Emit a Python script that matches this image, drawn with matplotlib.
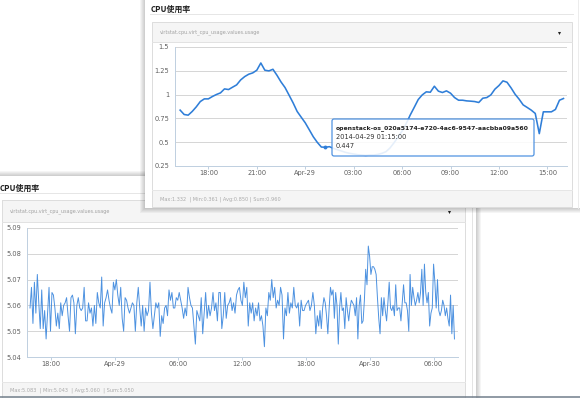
import matplotlib
matplotlib.use('Agg')
import matplotlib.pyplot as plt
import matplotlib.dates as mdates
from matplotlib.patches import Rectangle, FancyBboxPatch
from matplotlib.ticker import FuncFormatter, FixedLocator
import pandas as pd

W, H = 580, 398

panel_title = 'CPU使用率'
metric_name = 'virtstat.cpu.virt_cpu_usage.values.usage'

# front window (one day, 15 min samples)
top_start = '2014-04-28 16:15'
top_step = '15min'
top_usage = [0.837, 0.791, 0.784, 0.823, 0.871, 0.927, 0.955, 0.955, 0.980, 1.001,
             1.018, 1.060, 1.053, 1.078, 1.102, 1.154, 1.189, 1.214, 1.228, 1.256,
             1.332, 1.256, 1.249, 1.266, 1.203, 1.133, 1.074, 0.994, 0.913, 0.823,
             0.763, 0.704, 0.631, 0.557, 0.498, 0.449, 0.447, 0.453, 0.435, 0.421,
             0.407, 0.393, 0.383, 0.376, 0.369, 0.365, 0.361, 0.365, 0.365, 0.372,
             0.383, 0.400, 0.439, 0.494, 0.554, 0.617, 0.693, 0.784, 0.865, 0.948,
             0.997, 1.029, 1.025, 1.088, 1.036, 1.022, 1.039, 1.015, 0.969, 0.941,
             0.941, 0.934, 0.931, 0.927, 0.917, 0.962, 0.969, 0.997, 1.057, 1.095,
             1.144, 1.130, 1.071, 1.004, 0.952, 0.892, 0.865, 0.837, 0.802, 0.590,
             0.819, 0.819, 0.819, 0.844, 0.941, 0.959]
top_yticks = [0.25, 0.5, 0.75, 1.0, 1.25, 1.5]
top_xlim = ('2014-04-28 15:56', '2014-04-29 16:13')
top_tip_idx = 36
top_tip_name = 'openstack-os_020a5174-e720-4ac6-9547-aacbba09a560'
top_stats = 'Max:1.332  | Min:0.361 | Avg:0.850 | Sum:0.960'

bot_seg1 = [5.059, 5.067, 5.053, 5.069, 5.057, 5.072, 5.061, 5.051, 5.066, 5.051,
            5.058, 5.047, 5.057, 5.067, 5.050, 5.065, 5.064, 5.059, 5.052, 5.057,
            5.051, 5.061, 5.056, 5.060, 5.061, 5.063, 5.056, 5.050, 5.063, 5.064,
            5.061, 5.049, 5.060, 5.063, 5.059, 5.058, 5.059, 5.067, 5.054, 5.054,
            5.061, 5.057, 5.059, 5.052, 5.060, 5.053, 5.065, 5.061, 5.059, 5.071,
            5.052, 5.061, 5.063, 5.066, 5.062, 5.059, 5.057, 5.069, 5.066, 5.070,
            5.064, 5.060, 5.067, 5.055, 5.050, 5.063, 5.062, 5.059, 5.057, 5.059,
            5.061, 5.060, 5.050, 5.061, 5.067, 5.059, 5.052, 5.060, 5.050, 5.059,
            5.056, 5.058, 5.069, 5.057, 5.051, 5.056, 5.061, 5.059, 5.061, 5.048,
            5.056, 5.053, 5.059, 5.060, 5.056, 5.066, 5.062, 5.065, 5.059]
bot_seg2 = [5.059, 5.063, 5.062, 5.065, 5.062, 5.059, 5.055, 5.059, 5.056, 5.067,
            5.063, 5.060, 5.059, 5.052, 5.045, 5.058, 5.056, 5.054, 5.063, 5.049,
            5.057, 5.065, 5.055, 5.060, 5.056, 5.059, 5.065, 5.058, 5.061, 5.054,
            5.065, 5.065, 5.051, 5.056, 5.065, 5.055, 5.060, 5.061, 5.063, 5.058,
            5.061, 5.057, 5.064, 5.066, 5.067, 5.062, 5.060, 5.069, 5.063, 5.067,
            5.052, 5.061, 5.057, 5.061, 5.054, 5.059, 5.056, 5.061, 5.054, 5.056,
            5.052, 5.044, 5.059, 5.056, 5.065, 5.062, 5.070, 5.063, 5.067, 5.059,
            5.062, 5.060, 5.067, 5.064, 5.047, 5.059, 5.056, 5.065, 5.057, 5.061,
            5.059, 5.067, 5.060, 5.059, 5.061, 5.052, 5.062, 5.058, 5.058, 5.060,
            5.061, 5.062, 5.058, 5.060, 5.065, 5.060, 5.049, 5.056]
bot_seg3 = [5.052, 5.058, 5.051, 5.059, 5.063, 5.061, 5.056, 5.049, 5.059, 5.067,
            5.064, 5.066, 5.055, 5.065, 5.060, 5.045, 5.059, 5.065, 5.058, 5.059,
            5.051, 5.063, 5.058, 5.054, 5.059, 5.062, 5.061, 5.060, 5.056, 5.063,
            5.047, 5.060, 5.064, 5.053, 5.054, 5.062, 5.074, 5.068, 5.083, 5.079,
            5.072, 5.075, 5.075, 5.074, 5.072, 5.063, 5.055, 5.049, 5.063, 5.056,
            5.063, 5.058, 5.054, 5.061, 5.069, 5.059, 5.058, 5.060, 5.056, 5.068,
            5.058, 5.059, 5.059, 5.054, 5.061, 5.068, 5.061, 5.061, 5.058, 5.050,
            5.072, 5.060, 5.067, 5.063, 5.060, 5.062, 5.065, 5.061, 5.065, 5.074,
            5.060, 5.076, 5.065, 5.061, 5.065, 5.052, 5.057, 5.059, 5.076, 5.069,
            5.059, 5.070, 5.058, 5.056, 5.058, 5.062, 5.060, 5.056, 5.059, 5.055,
            5.052, 5.064, 5.049, 5.060, 5.047]
bot_seg_spans = [('2014-04-28 16:03', '2014-04-29 05:32'),
                 ('2014-04-29 05:40', '2014-04-29 19:04'),
                 ('2014-04-29 19:12', '2014-04-30 07:58')]
bot_yticks = [5.04, 5.05, 5.06, 5.07, 5.08, 5.09]
bot_xlim = ('2014-04-28 15:46', '2014-04-30 08:18')
bot_stats = 'Max:5.083  | Min:5.043  | Avg:5.060  | Sum:5.050'

LINE = '#2f7ed8'
AXIS = '#c0d0e0'
GRID = '#d6d6d6'
LABEL = '#606060'
CJK = ['Noto Sans CJK SC', 'DejaVu Sans']


def fig_rect(x0, y0, x1, y1):
    # pixel box (top-left origin) -> figure fraction
    return [x0 / W, 1 - y1 / H, (x1 - x0) / W, (y1 - y0) / H]


def px(n):
    # pixel width -> points
    return n * 72 / 100


def pixel_axes(fig, z):
    ax = fig.add_axes([0, 0, 1, 1], zorder=z)
    ax.set_xlim(0, W)
    ax.set_ylim(H, 0)
    ax.set_axis_off()
    return ax


def draw_chrome(ax, panel, title_xy, sep, box, head_y, foot_y, text_x, tri_x, stats):
    x0, y0, x1, y1 = panel
    for d in range(1, 6):
        ax.add_patch(Rectangle((x0 - d, y0 - d), x1 - x0 + 2 * d, y1 - y0 + 2 * d,
                               fc='k', ec='none', alpha=0.04))
    ax.add_patch(Rectangle((x0, y0), x1 - x0, y1 - y0, fc='white', ec='none'))
    ax.text(title_xy[0], title_xy[1], panel_title, family=CJK, weight='bold',
            fontsize=5.7, color='#222222', va='center', ha='left')
    ax.plot([sep[0], sep[1]], [sep[2], sep[2]], color='#e6e6e6', lw=px(1))
    bx0, by0, bx1, by1 = box
    ax.add_patch(Rectangle((bx0, by0), bx1 - bx0, head_y - by0, fc='#f5f5f5', ec='none'))
    ax.add_patch(Rectangle((bx0, foot_y), bx1 - bx0, by1 - foot_y, fc='#f5f5f5', ec='none'))
    ax.add_patch(Rectangle((bx0, by0), bx1 - bx0, by1 - by0, fc='none', ec='#dddddd', lw=px(1)))
    ax.plot([bx0, bx1], [head_y, head_y], color='#e2e2e2', lw=px(1))
    ax.plot([bx0, bx1], [foot_y, foot_y], color='#e6e6e6', lw=px(1))
    ax.text(text_x, (by0 + head_y) / 2, metric_name, fontsize=3.5, color='#a0a0a0', va='center')
    ax.plot(tri_x, (by0 + head_y) / 2 + 1, marker='v', ms=2.2, color='#222222', mec='none')
    ax.text(text_x, (foot_y + min(by1, H)) / 2 + 0.5, stats, fontsize=3.6, color='#aaaaaa', va='center')


def time_label(x, pos):
    d = mdates.num2date(x)
    if d.hour == 0 and d.minute == 0:
        return d.strftime('%b-%d')
    return d.strftime('%H:%M')


def style_chart(ax, yticks, xlim, hours, ylabel_fmt):
    ax.set_facecolor('none')
    ax.set_ylim(yticks[0], yticks[-1])
    ax.set_xlim(pd.Timestamp(xlim[0]).to_pydatetime(), pd.Timestamp(xlim[1]).to_pydatetime())
    ax.yaxis.set_major_locator(FixedLocator(yticks))
    ax.yaxis.set_major_formatter(FuncFormatter(lambda v, p: ylabel_fmt(v)))
    ax.xaxis.set_major_locator(mdates.HourLocator(byhour=hours))
    ax.xaxis.set_major_formatter(FuncFormatter(time_label))
    ax.grid(axis='y', color=GRID, lw=px(1))
    ax.set_axisbelow(True)
    for s in ['top', 'right']:
        ax.spines[s].set_visible(False)
    for s in ['left', 'bottom']:
        ax.spines[s].set_color(AXIS)
        ax.spines[s].set_linewidth(px(1))
    ax.tick_params(axis='y', length=0, pad=4.3, labelsize=4.8, labelcolor=LABEL)
    ax.tick_params(axis='x', length=2, width=px(1), color=AXIS, pad=0.6,
                   labelsize=4.8, labelcolor=LABEL)


fig = plt.figure(figsize=(W / 100, H / 100), dpi=100)
fig.patch.set_facecolor('white')

# ---- back window ----
bg = pixel_axes(fig, 0)
draw_chrome(bg, (-10, 176, 476, 410), (0, 188), (0, 465, 193.3), (2, 199.5, 465, 410),
            222.3, 382, 10, 449, bot_stats)
bg.plot([472, 472], [176, H], color='#e4e4e4', lw=px(1))

bot_times = []
bot_vals = []
for seg, (t0, t1) in zip([bot_seg1, bot_seg2, bot_seg3], bot_seg_spans):
    bot_times.extend(pd.date_range(t0, t1, periods=len(seg)).to_pydatetime())
    bot_vals.extend(seg)

ax_b = fig.add_axes(fig_rect(27, 228, 458, 357), zorder=1)
style_chart(ax_b, bot_yticks, bot_xlim, [0, 6, 12, 18], lambda v: '%.2f' % v)
ax_b.plot(bot_times, bot_vals, color='#3a86dd', lw=0.7, alpha=0.9)

# ---- front window ----
fg = pixel_axes(fig, 2)
draw_chrome(fg, (145, -10, 590, 208), (151, 9.5), (150, 573, 14.3), (152, 22, 572, 207),
            41.5, 190, 160, 559, top_stats)
fg.plot([578, 578], [0, 208], color='#ececec', lw=px(1))

top_times = pd.date_range(top_start, periods=len(top_usage), freq=top_step)
ax_t = fig.add_axes(fig_rect(175, 47, 567, 166), zorder=3)
style_chart(ax_t, top_yticks, top_xlim, list(range(0, 24, 3)), lambda v: '%g' % v)
ax_t.plot(top_times.to_pydatetime(), top_usage, color=LINE, lw=1.15)
ax_t.plot(top_times[top_tip_idx].to_pydatetime(), top_usage[top_tip_idx], 'o',
          ms=2.8, color=LINE, mec='none')

# ---- tooltip and bottom edge ----
ov = pixel_axes(fig, 4)
ov.add_patch(FancyBboxPatch((332, 119), 202, 37, boxstyle='round,pad=0,rounding_size=2',
                            fc=(1, 1, 1, 0.88), ec='#4a8fe0', lw=px(1.2)))
ov.text(336, 128.3, top_tip_name, fontsize=4.45, weight='bold', color='#222222', va='center')
ov.text(336, 136.8, top_times[top_tip_idx].strftime('%Y-%m-%d %H:%M:%S'),
        fontsize=4.8, color='#333333', va='center')
ov.text(336, 145.5, '%.3f' % top_usage[top_tip_idx], fontsize=4.8, color='#333333', va='center')
ov.plot([0, W], [397.3, 397.3], color='#6f7c89', lw=px(1.5))

fig.savefig('out.png', dpi=100, facecolor='white')
